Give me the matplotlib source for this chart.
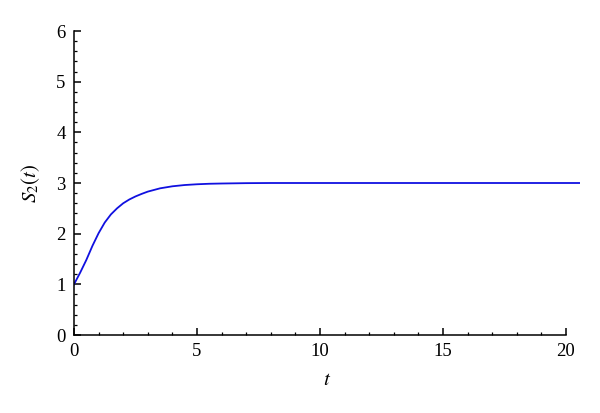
import numpy as np
import matplotlib
matplotlib.use('Agg')
from matplotlib import pyplot as plt
from matplotlib.ticker import MultipleLocator

plt.rcParams['font.family'] = 'Liberation Serif'
plt.rcParams['mathtext.fontset'] = 'stix'

# values
t = [0, 0.25, 0.5, 0.75, 1.0, 1.25, 1.5, 1.75, 2.0, 2.25, 2.5, 2.75, 3.0,
     3.5, 4.0, 4.5, 5.0, 5.5, 6.0, 7.0, 8.0, 10.0, 15.0, 20.57]
s2 = [1.0, 1.23, 1.48, 1.76, 2.01, 2.22, 2.38, 2.50, 2.60, 2.675, 2.735, 2.785, 2.83,
      2.895, 2.935, 2.96, 2.975, 2.985, 2.99, 2.997, 3.0, 3.0, 3.0, 3.0]

fig = plt.figure(figsize=(6, 4.13), dpi=100)
ax = fig.add_axes([74/600, (413-335)/413, (580-74)/600, (335-31)/413])

ax.plot(t, s2, color='#1010e0', lw=1.3)

ax.set_xlim(0, 20.57)
ax.set_ylim(0, 6)
ax.spines['top'].set_visible(False)
ax.spines['right'].set_visible(False)
ax.spines['bottom'].set_bounds(0, 20)
for sp in ['left', 'bottom']:
    ax.spines[sp].set_linewidth(1.1)

ax.xaxis.set_major_locator(MultipleLocator(5))
ax.xaxis.set_minor_locator(MultipleLocator(1))
ax.yaxis.set_major_locator(MultipleLocator(1))
ax.yaxis.set_minor_locator(MultipleLocator(0.2))
ax.tick_params(which='major', direction='in', length=5, width=1.1, labelsize=13.5, pad=6)
ax.tick_params(which='minor', direction='in', length=2.5, width=0.9)

ax.set_xlabel('$t$', fontsize=15, labelpad=8)
ax.set_ylabel('$S_2(t)$', fontsize=15, labelpad=10)

plt.savefig('out.png', dpi=100)
